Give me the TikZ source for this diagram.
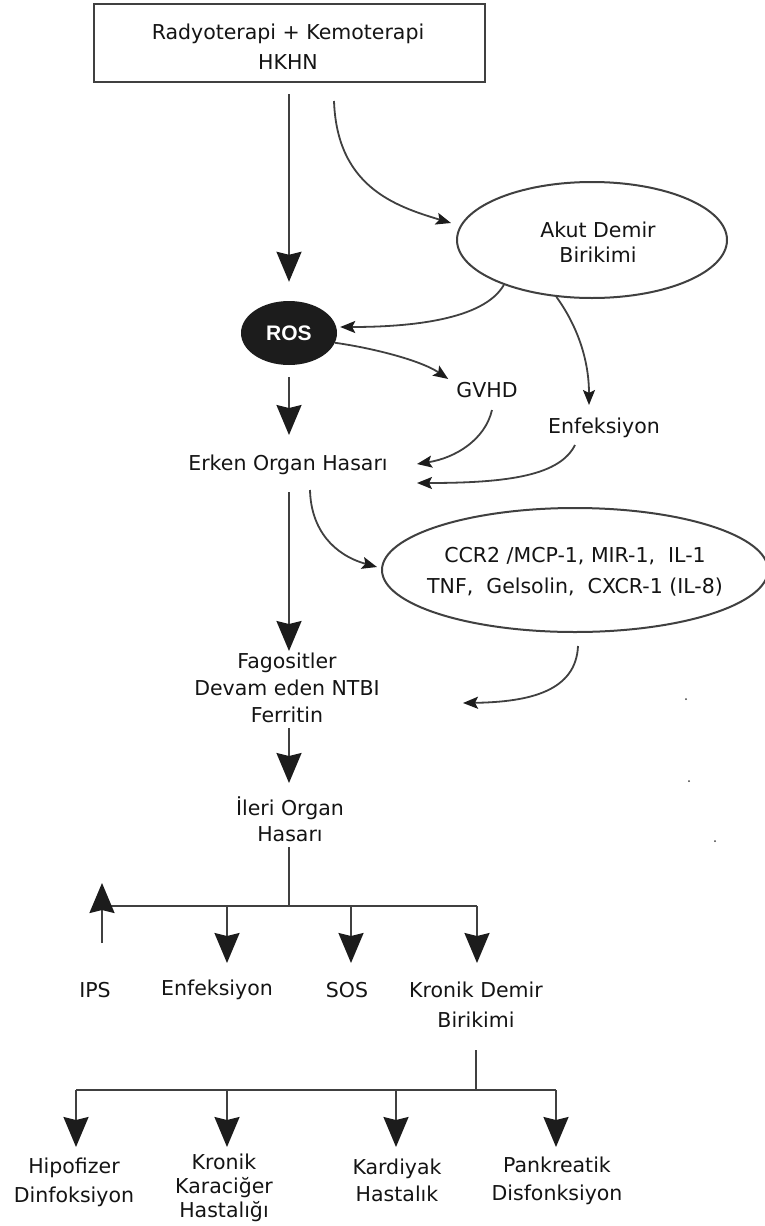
\documentclass[tikz,border=0pt]{standalone}
\usepackage{fontspec}
\setmainfont{DejaVu Sans}
\newfontfamily\rosfont{Liberation Sans}
\usetikzlibrary{arrows.meta,shapes.geometric,calc}
\definecolor{ln}{HTML}{404040}
\definecolor{hd}{HTML}{1C1C1C}
\definecolor{tx}{HTML}{141414}
\tikzset{
  lbl/.style={inner sep=0pt, align=center, text=tx, font=\fontsize{20.5}{27}\selectfont},
  bigarrow/.style={draw=ln, line width=2pt, -{Stealth[length=30pt,width=25pt,inset=3pt,color=hd]}},
  smallarrow/.style={draw=ln, line width=1.8pt, -{Stealth[length=15pt,width=12pt,inset=3pt,color=hd]}},
  plain/.style={draw=ln, line width=2pt},
  oval/.style={ellipse, draw=ln, line width=2pt, inner sep=0pt},
}
\begin{document}
\begin{tikzpicture}[x=1pt,y=1pt]
\fill[white] (0,0) rectangle (765,-1226);
\useasboundingbox (0,0) rectangle (765,-1226);

% nodes
\node[draw=ln, line width=2pt, minimum width=391pt, minimum height=78pt, inner sep=0pt] (top) at (289.5,-43) {};
\node[lbl, font=\fontsize{20.5}{30}\selectfont] (toplbl) at (288,-47) {Radyoterapi + Kemoterapi\\HKHN};
\node[oval, minimum width=270pt, minimum height=116pt] (akut) at (592,-240) {};
\node[lbl, font=\fontsize{20.5}{25}\selectfont] (akutlbl) at (598,-242) {Akut Demir\\Birikimi};
\node[ellipse, fill=hd, minimum width=96pt, minimum height=64pt, inner sep=0pt, text=white,
      font=\rosfont\bfseries\fontsize{21}{21}\selectfont] (ros) at (289,-333) {ROS};
\node[lbl] (gvhd) at (487,-390) {GVHD};
\node[lbl] (enf1) at (604,-428) {Enfeksiyon};
\node[lbl] (erken) at (288,-465) {Erken Organ Hasarı};
\node[oval, minimum width=386pt, minimum height=124pt] (ccr) at (575,-570) {};
\node[lbl, font=\fontsize{20.5}{31}\selectfont] (ccrlbl) at (575,-572) {CCR2 /MCP-1, MIR-1,\ \ IL-1\\TNF,\ \ Gelsolin,\ \ CXCR-1 (IL-8)};
\node[lbl] (fag) at (287,-688) {Fagositler\\Devam eden NTBI\\Ferritin};
\node[lbl, font=\fontsize{20.5}{26}\selectfont] (ileri) at (290,-819) {İleri Organ\\Hasarı};
\node[lbl] (ips) at (95,-990) {IPS};
\node[lbl] (enf2) at (217,-990) {Enfeksiyon};
\node[lbl] (sos) at (347,-990) {SOS};
\node[lbl, font=\fontsize{20.5}{30}\selectfont] (kd) at (476,-1005) {Kronik Demir\\Birikimi};
\node[lbl, font=\fontsize{20.5}{29}\selectfont] (hip) at (74,-1182) {Hipofizer\\Dinfoksiyon};
\node[lbl, font=\fontsize{20.5}{24}\selectfont] (kk) at (224,-1188) {Kronik\\Karaciğer\\Hastalığı};
\node[lbl, font=\fontsize{20.5}{27}\selectfont] (kar) at (397,-1180) {Kardiyak\\Hastalık};
\node[lbl, font=\fontsize{20.5}{28}\selectfont] (pan) at (557,-1181) {Pankreatik\\Disfonksiyon};

% junction coordinates
\coordinate (j1) at (289,-906);
\coordinate (hL) at (102,-906);
\coordinate (bE) at (227,-906);
\coordinate (bS) at (351,-906);
\coordinate (hR) at (477,-906);
\coordinate (j2) at (476,-1090);
\coordinate (gL) at (76,-1090);
\coordinate (gK) at (227,-1090);
\coordinate (gC) at (396,-1090);
\coordinate (gR) at (556,-1090);

% connectors
\draw[bigarrow] ($(top.south)+(-0.5,-11)$) -- ($(ros.north)+(0,19)$);
\draw[smallarrow] ($(top.south)+(44.5,-18)$) .. controls +(3,-85) and +(-57,17) .. ($(akut.west)+(-5,17)$);
\draw[smallarrow] (akut.207) .. controls +(-20,-35) and +(70,0) .. ($(ros.east)+(3,6)$);
\draw[smallarrow] (ros.-12) .. controls +(36,-5) and +(-28,19) .. ($(gvhd.west)+(-8,11)$);
\draw[smallarrow] (akut.238) .. controls +(21,-29) and +(0,45) .. ($(enf1)+(-15,23)$);
\draw[bigarrow] ($(ros.south)+(0,-12)$) -- ($(ros.south|-erken)+(0,30)$);
\draw[smallarrow] ($(gvhd)+(5,-20)$) .. controls +(-7,-30) and +(38,6) .. ($(erken)+(129,1)$);
\draw[smallarrow] ($(enf1)+(-29,-17)$) .. controls +(-15,-30) and +(93,0) .. ($(erken)+(129,-18)$);
\draw[bigarrow] ($(erken)+(1,-27)$) -- ($(fag)+(2,37)$);
\draw[smallarrow] ($(erken)+(22,-25)$) .. controls +(1,-40) and +(-43,12) .. ($(ccr.west)+(-4,3)$);
\draw[smallarrow] ($(ccr.south)+(3,-13)$) .. controls +(-2,-45) and +(67,1) .. ($(fag)+(176,-15)$);
\draw[bigarrow] ($(fag)+(2,-40)$) -- ($(ileri)+(-1,36)$);

\draw[plain] ($(ileri)+(-1,-28)$) -- (j1);
\draw[plain] (hL) -- (hR);
\draw[bigarrow] ($(ips)+(7,47)$) -- ($(hL)+(0,23)$);
\draw[bigarrow] (bE) -- ($(enf2)+(10,27)$);
\draw[bigarrow] (bS) -- ($(sos)+(4,27)$);
\draw[bigarrow] (hR) -- ($(kd)+(1,42)$);

\draw[plain] ($(kd)+(0,-45)$) -- (j2);
\draw[plain] (gL) -- (gR);
\draw[bigarrow] (gL) -- ($(hip)+(2,35)$);
\draw[bigarrow] (gK) -- ($(kk)+(3,41)$);
\draw[bigarrow] (gC) -- ($(kar)+(-1,33)$);
\draw[bigarrow] (gR) -- ($(pan)+(-1,34)$);

% specks
\fill[ln] (686,-699) circle (1);
\fill[ln] (689,-781) circle (1);
\fill[ln] (715,-841) circle (1);
\end{tikzpicture}
\end{document}
